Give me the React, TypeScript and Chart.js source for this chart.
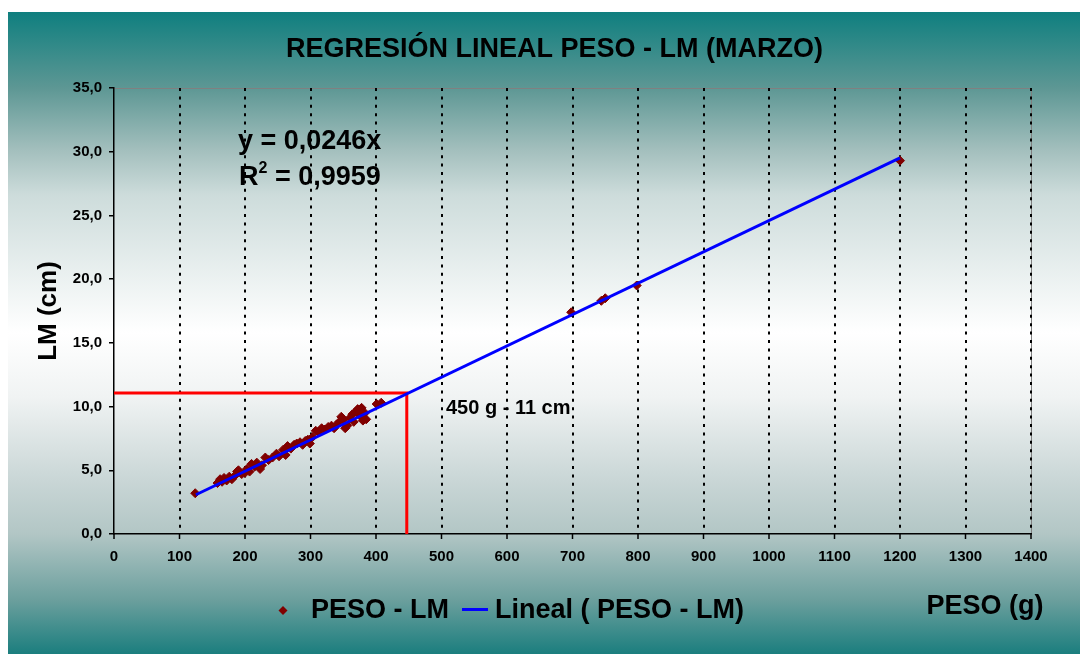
import React, { useEffect, useRef } from "react";
import { Chart, registerables } from "chart.js";

Chart.register(...registerables);

const FONT = '"Liberation Sans", Arial, Helvetica, sans-serif';

const TITLE = "REGRESIÓN LINEAL PESO - LM (MARZO)";
const X_TITLE = "PESO (g)";
const Y_TITLE = "LM (cm)";
const SERIES_NAME = "PESO - LM";
const TREND_NAME = "Lineal ( PESO - LM)";
const EQUATION = "y = 0,0246x";
const R2_LEFT = "R";
const R2_SUP = "2";
const R2_RIGHT = " = 0,9959";
const ANNOTATION = "450 g - 11 cm";

// Observed points (PESO in g, LM in cm)
const pesoG = [
  124, 158, 162, 165, 168, 172, 176, 180, 185, 188, 190, 195, 200, 203, 207,
  210, 215, 218, 223, 226, 231, 236, 242, 248, 252, 258, 262, 265, 270, 275,
  279, 284, 288, 292, 296, 299, 303, 308, 312, 317, 322, 327, 332, 336, 340,
  344, 347, 350, 353, 356, 360, 364, 366, 369, 372, 375, 378, 380, 383, 385,
  401, 408, 698, 744, 750, 798, 1200,
];
const lmCm = [
  3.2, 4.0, 4.3, 4.1, 4.4, 4.2, 4.5, 4.3, 4.6, 4.9, 5.0, 4.7, 4.8, 5.1, 4.9,
  5.5, 5.3, 5.6, 5.1, 5.4, 6.0, 5.8, 6.0, 6.3, 6.1, 6.6, 6.2, 6.9, 6.7, 7.0,
  7.1, 7.2, 7.0, 7.3, 7.4, 7.1, 7.6, 8.1, 8.0, 8.3, 8.2, 8.4, 8.5, 8.3, 8.6,
  8.8, 9.2, 9.0, 8.3, 8.5, 9.1, 9.4, 8.8, 9.6, 9.8, 9.3, 9.9, 8.9, 9.5, 9.0,
  10.2, 10.3, 17.4, 18.3, 18.5, 19.5, 29.3,
];

// Linear trend line endpoints (y = 0,0246x)
const trendX = [125, 1200];
const trendY = [3.08, 29.52];

// Red guide lines: 450 g -> 11 cm
const guideX = [0, 447, 447];
const guideY = [11.07, 11.07, 0];

const xTickLabels = [
  "0", "100", "200", "300", "400", "500", "600", "700",
  "800", "900", "1000", "1100", "1200", "1300", "1400",
];
const yTickLabels = ["0,0", "5,0", "10,0", "15,0", "20,0", "25,0", "30,0", "35,0"];

const W = 1080;
const H = 654;

const decorPlugin = {
  id: "decor",
  beforeDraw(chart: any) {
    const { ctx, chartArea: a } = chart;
    ctx.save();
    ctx.fillStyle = "#ffffff";
    ctx.fillRect(0, 0, W, H);
    const g = ctx.createLinearGradient(0, 12, 0, H);
    g.addColorStop(0, "#0f7f7f");
    g.addColorStop(0.118, "#5d9794");
    g.addColorStop(0.215, "#a3bfbd");
    g.addColorStop(0.285, "#cddcdb");
    g.addColorStop(0.5, "#ffffff");
    g.addColorStop(0.6, "#f0f3f3");
    g.addColorStop(0.73, "#c9d6d6");
    g.addColorStop(0.813, "#b2c6c5");
    g.addColorStop(0.916, "#6b9f9d");
    g.addColorStop(1, "#1b7e7e");
    ctx.fillStyle = g;
    ctx.fillRect(8, 12, W - 8, H - 12);
    // plot area top / right border
    ctx.strokeStyle = "#808080";
    ctx.lineWidth = 1;
    ctx.beginPath();
    ctx.moveTo(a.left, a.top + 0.5);
    ctx.lineTo(a.right + 0.5, a.top + 0.5);
    ctx.lineTo(a.right + 0.5, a.bottom);
    ctx.stroke();
    ctx.restore();
  },
  afterDraw(chart: any) {
    const { ctx, chartArea: a } = chart;
    const xs = chart.scales.x;
    ctx.save();
    // x tick marks
    ctx.strokeStyle = "#000";
    ctx.lineWidth = 1.5;
    xTickLabels.forEach((t) => {
      const px = xs.getPixelForValue(Number(t));
      ctx.beginPath();
      ctx.moveTo(px, a.bottom);
      ctx.lineTo(px, a.bottom + 5);
      ctx.stroke();
    });

    ctx.fillStyle = "#000";
    ctx.textBaseline = "alphabetic";

    // title
    ctx.font = `bold 27px ${FONT}`;
    ctx.textAlign = "center";
    ctx.fillText(TITLE, 554.5, 57);

    // equation
    ctx.textAlign = "left";
    ctx.font = `bold 27px ${FONT}`;
    ctx.fillText(EQUATION, 238, 149);
    ctx.fillText(R2_LEFT, 239, 185);
    const rw = ctx.measureText(R2_LEFT).width;
    ctx.font = `bold 16px ${FONT}`;
    ctx.fillText(R2_SUP, 239 + rw, 173);
    const sw = ctx.measureText(R2_SUP).width;
    ctx.font = `bold 27px ${FONT}`;
    ctx.fillText(R2_RIGHT, 239 + rw + sw, 185);

    // annotation
    ctx.font = `bold 20px ${FONT}`;
    ctx.fillText(ANNOTATION, 446, 414);

    // y axis title
    ctx.save();
    ctx.font = `bold 26px ${FONT}`;
    ctx.translate(55.5, 311);
    ctx.rotate(-Math.PI / 2);
    ctx.textAlign = "center";
    ctx.fillText(Y_TITLE, 0, 0);
    ctx.restore();

    // legend
    ctx.fillStyle = "#800000";
    ctx.beginPath();
    ctx.moveTo(283, 606);
    ctx.lineTo(287.5, 610.5);
    ctx.lineTo(283, 615);
    ctx.lineTo(278.5, 610.5);
    ctx.closePath();
    ctx.fill();
    ctx.fillStyle = "#000";
    ctx.font = `bold 27px ${FONT}`;
    ctx.textAlign = "left";
    ctx.fillText(SERIES_NAME, 311, 618);
    ctx.strokeStyle = "#0000ff";
    ctx.lineWidth = 3;
    ctx.beginPath();
    ctx.moveTo(462, 609.5);
    ctx.lineTo(488, 609.5);
    ctx.stroke();
    ctx.fillText(TREND_NAME, 495, 618);

    // x axis title
    ctx.fillText(X_TITLE, 926.5, 614);
    ctx.restore();
  },
};

export default function App() {
  const ref = useRef<HTMLCanvasElement | null>(null);
  useEffect(() => {
    if (!ref.current) return;
    Chart.defaults.font.family = FONT;
    const chart = new Chart(ref.current, {
      type: "scatter",
      data: {
        datasets: [
          {
            label: TREND_NAME,
            data: trendX.map((x, i) => ({ x, y: trendY[i] })),
            showLine: true,
            borderColor: "#0000ff",
            borderWidth: 3,
            pointRadius: 0,
            fill: false,
          },
          {
            label: SERIES_NAME,
            data: pesoG.map((x, i) => ({ x, y: lmCm[i] })),
            pointStyle: "rectRot",
            pointRadius: 4.5,
            backgroundColor: "#800000",
            borderColor: "#800000",
            borderWidth: 1,
          },
          {
            label: "guide",
            data: guideX.map((x, i) => ({ x, y: guideY[i] })),
            showLine: true,
            borderColor: "#ff0000",
            borderWidth: 3,
            pointRadius: 0,
            fill: false,
          },
        ],
      },
      options: {
        responsive: false,
        animation: false,
        events: [],
        layout: { padding: { top: 88, right: 49, bottom: 0, left: 0 } },
        plugins: {
          legend: { display: false },
          title: { display: false },
          tooltip: { enabled: false },
        },
        scales: {
          x: {
            type: "linear",
            min: 0,
            max: 1400,
            afterFit: (s: any) => {
              s.height = 120;
            },
            ticks: {
              stepSize: 100,
              padding: 14,
              color: "#000",
              font: { size: 15, weight: "bold" },
              maxRotation: 0,
              callback: (_v: any, i: number) => xTickLabels[i],
            },
            grid: {
              drawTicks: false,
              color: (c: any) => (c.tick && c.tick.value === 0 ? "rgba(0,0,0,0)" : "#000"),
              lineWidth: 2,
            },
            border: { display: true, color: "#000", width: 1.5, dash: [3, 5.4] },
          },
          y: {
            type: "linear",
            min: 0,
            max: 35,
            afterFit: (s: any) => {
              s.width = 114;
            },
            ticks: {
              stepSize: 5,
              padding: 7,
              color: "#000",
              font: { size: 15, weight: "bold" },
              callback: (_v: any, i: number) => yTickLabels[i],
            },
            grid: {
              drawOnChartArea: false,
              drawTicks: true,
              tickLength: 5,
              color: "#000",
              lineWidth: 1.5,
            },
            border: { display: true, color: "#000", width: 1.5 },
          },
        },
      },
      plugins: [decorPlugin],
    });
    return () => chart.destroy();
  }, []);
  return (
    <div style={{ position: "absolute", left: 0, top: 0, width: W, height: H }}>
      <canvas ref={ref} width={W} height={H} style={{ display: "block" }} />
    </div>
  );
}
